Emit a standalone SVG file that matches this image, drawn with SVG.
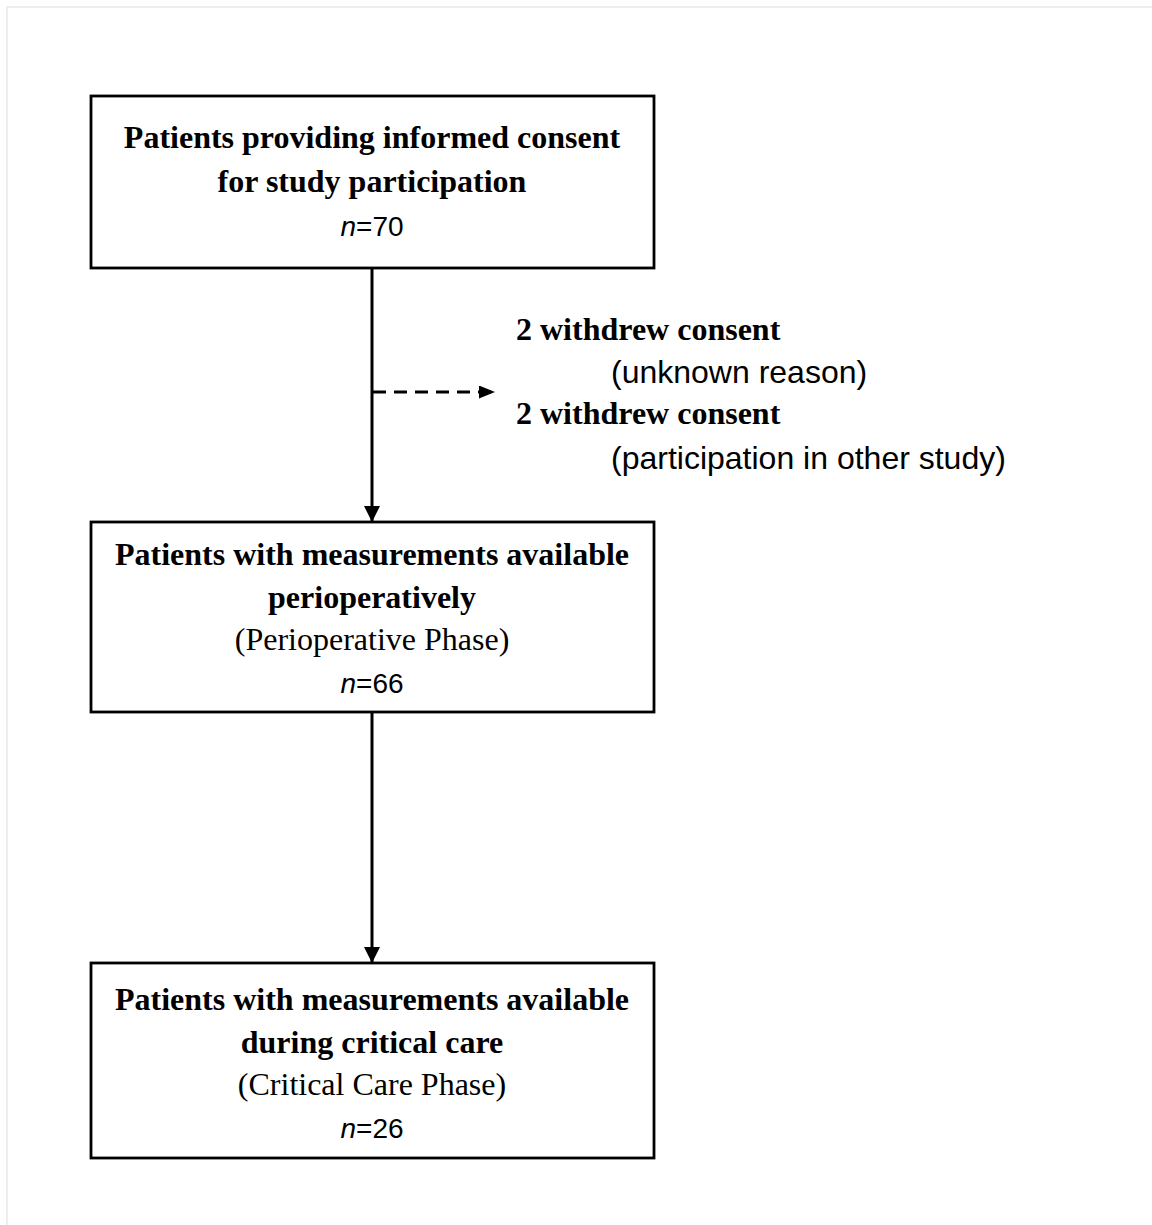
<svg xmlns="http://www.w3.org/2000/svg" width="1152" height="1225" viewBox="0 0 1152 1225">
<style>
.box{fill:#fff;stroke:#000;stroke-width:2.8}
.b{font-family:"Liberation Serif","Times New Roman",serif;font-weight:bold;font-size:32px;fill:#000}
.r{font-family:"Liberation Serif","Times New Roman",serif;font-size:32px;fill:#000}
.s{font-family:"Liberation Sans",Arial,sans-serif;font-size:32px;fill:#000}
.n{font-family:"Liberation Sans",Arial,sans-serif;font-size:28px;fill:#000}
.c{text-anchor:middle}
.ln{stroke:#000;stroke-width:3;fill:none}
</style>
<defs>
<marker id="ah" markerUnits="userSpaceOnUse" markerWidth="18" markerHeight="18" refX="16" refY="8" orient="auto">
<path d="M0,0 L16,8 L0,16 Z" fill="#000"/>
</marker>
<marker id="ah2" markerUnits="userSpaceOnUse" markerWidth="18" markerHeight="14" refX="16" refY="6.5" orient="auto">
<path d="M0,0 L16,6.5 L0,13 Z" fill="#000"/>
</marker>
</defs>
<rect width="1152" height="1225" fill="#fff"/>
<path d="M7,1225 V7 H1152" fill="none" stroke="#eeeeee" stroke-width="2"/>
<g id="connectors">
<line class="ln" x1="372" y1="268" x2="372" y2="522" marker-end="url(#ah)"/>
<line class="ln" x1="373" y1="392" x2="495" y2="392" stroke-dasharray="13,8" marker-end="url(#ah2)"/>
<line class="ln" x1="372" y1="712" x2="372" y2="963" marker-end="url(#ah)"/>
</g>
<g id="node1">
<rect class="box" x="91" y="96" width="563" height="172"/>
<text class="b c" x="372" y="148">Patients providing informed consent</text>
<text class="b c" x="372" y="192">for study participation</text>
<text class="n c" x="372" y="236"><tspan font-style="italic">n</tspan>=70</text>
</g>
<g id="exclusion">
<text class="b" x="516" y="340">2 withdrew consent</text>
<text class="s" x="611" y="383">(unknown reason)</text>
<text class="b" x="516" y="424">2 withdrew consent</text>
<text class="s" x="611" y="469">(participation in other study)</text>
</g>
<g id="node2">
<rect class="box" x="91" y="522" width="563" height="190"/>
<text class="b c" x="372" y="565">Patients with measurements available</text>
<text class="b c" x="372" y="608">perioperatively</text>
<text class="r c" x="372" y="650">(Perioperative Phase)</text>
<text class="n c" x="372" y="693"><tspan font-style="italic">n</tspan>=66</text>
</g>
<g id="node3">
<rect class="box" x="91" y="963" width="563" height="195"/>
<text class="b c" x="372" y="1010">Patients with measurements available</text>
<text class="b c" x="372" y="1053">during critical care</text>
<text class="r c" x="372" y="1095">(Critical Care Phase)</text>
<text class="n c" x="372" y="1138"><tspan font-style="italic">n</tspan>=26</text>
</g>
</svg>
